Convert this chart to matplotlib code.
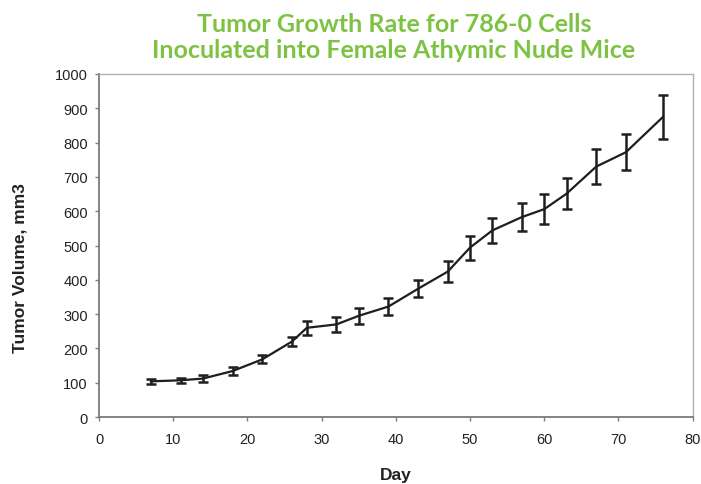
import matplotlib
matplotlib.use("Agg")
import matplotlib.pyplot as plt

plt.rcParams["font.family"] = ["Liberation Sans", "DejaVu Sans"]

days = [7, 11, 14, 18, 22, 26, 28, 32, 35, 39, 43, 47, 50, 53, 57, 60, 63, 67, 71, 76]
volume = [104, 107, 112, 134, 168, 220, 260, 270, 295, 322, 374, 424, 494, 544, 583, 606, 651, 730, 772, 875]
error = [8, 8, 9, 11, 12, 14, 20, 21, 23, 24, 25, 30, 35, 37, 42, 43, 46, 51, 52, 64]

title_lines = ["Tumor Growth Rate for 786-0 Cells", "Inoculated into Female Athymic Nude Mice"]
xlabel = "Day"
ylabel = "Tumor Volume, mm3"

fig = plt.figure(figsize=(7.01, 4.85), dpi=100)
ax = fig.add_axes([99/701, 1-418/485, (692.7-99)/701, (418-75)/485])

ax.errorbar(days, volume, yerr=error, color="#1e1e1e", lw=1.6, elinewidth=1.8,
            capsize=3.8, capthick=1.8)

ax.set_xlim(0, 80)
ax.set_ylim(0, 1000)
ax.set_xticks(range(0, 81, 10))
ax.set_yticks(range(0, 1001, 100))
ax.tick_params(axis="x", direction="out", length=3, width=1, color="#808080", pad=8,
               labelsize=10.5, labelcolor="#222222")
ax.tick_params(axis="y", direction="out", length=3, width=1, color="#808080", pad=5,
               labelsize=10.5, labelcolor="#222222")

for side in ["left", "bottom"]:
    ax.spines[side].set_color("#7a7a7a")
    ax.spines[side].set_linewidth(1.3)
for side in ["top", "right"]:
    ax.spines[side].set_color("#b0b0b0")
    ax.spines[side].set_linewidth(1.0)

fig.text(396/701, 1-476/485, xlabel, ha="center", va="center", fontsize=12.5,
         fontweight="bold", color="#222222")
fig.text(20/701, 1-268/485, ylabel, ha="center", va="center", rotation=90,
         fontsize=12.5, fontweight="bold", color="#222222")

green = "#7dc242"
fig.text(394/701, 1-24/485, title_lines[0], ha="center", va="center", fontsize=18,
         fontweight="bold", family="Lato", color=green)
fig.text(394/701, 1-50/485, title_lines[1], ha="center", va="center", fontsize=18,
         fontweight="bold", family="Lato", color=green)

fig.savefig("out.png", dpi=100)
